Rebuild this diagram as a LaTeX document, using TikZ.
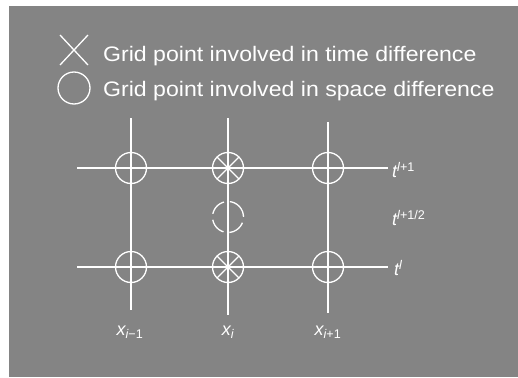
\documentclass[tikz,border=0pt]{standalone}
\usepackage{fontspec}
\setmainfont{Liberation Sans}
\newfontfamily\legendfont[FakeStretch=1.1]{Liberation Sans}
\usepackage{xcolor}
\usetikzlibrary{calc}
\definecolor{scangray}{RGB}{132,132,132}
\tikzset{
  gridline/.style={white,line width=1.6pt},
  ring/.style={circle,draw=white,line width=1.3pt,minimum size=31pt,inner sep=0pt},
  halfring/.style={ring,dash pattern={on 17pt off 6pt}},
  legendtext/.style={anchor=base west,inner sep=0pt,white,font=\legendfont\fontsize{21}{25}\selectfont},
  axislabel/.style={inner sep=0pt,white,font=\fontsize{18}{21}\selectfont\itshape}
}

\begin{document}
\begin{tikzpicture}[x=1pt,y=1pt,yscale=-1,xscale=1]
%set diagram at 518 by 377
\useasboundingbox (0,0) rectangle (518,377);
\fill[scangray] (9,6) rectangle (518,377);

% Legend
\draw[gridline,line width=1.3pt] (60,35) -- (88,65) (88,35) -- (60,65);
\node[ring,minimum size=32pt] (keyring) at (74,88) {};
\node[legendtext] (keytime) at (103,62) {Grid point involved in time difference};
\node[legendtext] (keyspace) at (103,96) {Grid point involved in space difference};

% Grid line ends
\coordinate (top1) at (131,118);
\coordinate (bot1) at (131,310);
\coordinate (top2) at (228,118);
\coordinate (bot2) at (228,315);
\coordinate (top3) at (328,122);
\coordinate (bot3) at (328,313);
\coordinate (lftA) at (77,168);
\coordinate (rgtA) at (388,168);
\coordinate (lftB) at (77,267);
\coordinate (rgtB) at (388,267);

%Straight Lines
\draw[gridline] (top1) -- (bot1);
\draw[gridline] (top2) -- (bot2);
\draw[gridline] (top3) -- (bot3);
\draw[gridline] (lftA) -- (rgtA);
\draw[gridline] (lftB) -- (rgtB);

% Grid points
\node[ring] (pA1) at (131,168) {};
\node[ring] (pA2) at (228,168) {};
\node[ring] (pA3) at (328,168) {};
\node[ring] (pB1) at (131,267) {};
\node[ring] (pB2) at (228,267) {};
\node[ring] (pB3) at (328,267) {};
\node[halfring,rotate=20] (pmid) at (228,217) {};

% Time difference marks
\foreach \p in {pA2,pB2}{
  \draw[gridline,line width=1.3pt] ($(\p)+(45:15.5)$) -- ($(\p)+(225:15.5)$);
  \draw[gridline,line width=1.3pt] ($(\p)+(135:15.5)$) -- ($(\p)+(315:15.5)$);
}

% Text Node
\node[axislabel,anchor=west] (tnext) at (392,170) {t\textsuperscript{l\upshape +1}};
\node[axislabel,anchor=west] (thalf) at (392,218) {t\textsuperscript{l\upshape +1/2}};
\node[axislabel,anchor=west] (tnow) at (394,268) {t\textsuperscript{l}};
\node[axislabel] (xprev) at (130,332) {x\textsubscript{i\upshape −1}};
\node[axislabel] (xnow) at (228,332) {x\textsubscript{i}};
\node[axislabel] (xnext) at (328,332) {x\textsubscript{i\upshape +1}};

\end{tikzpicture}
\end{document}
